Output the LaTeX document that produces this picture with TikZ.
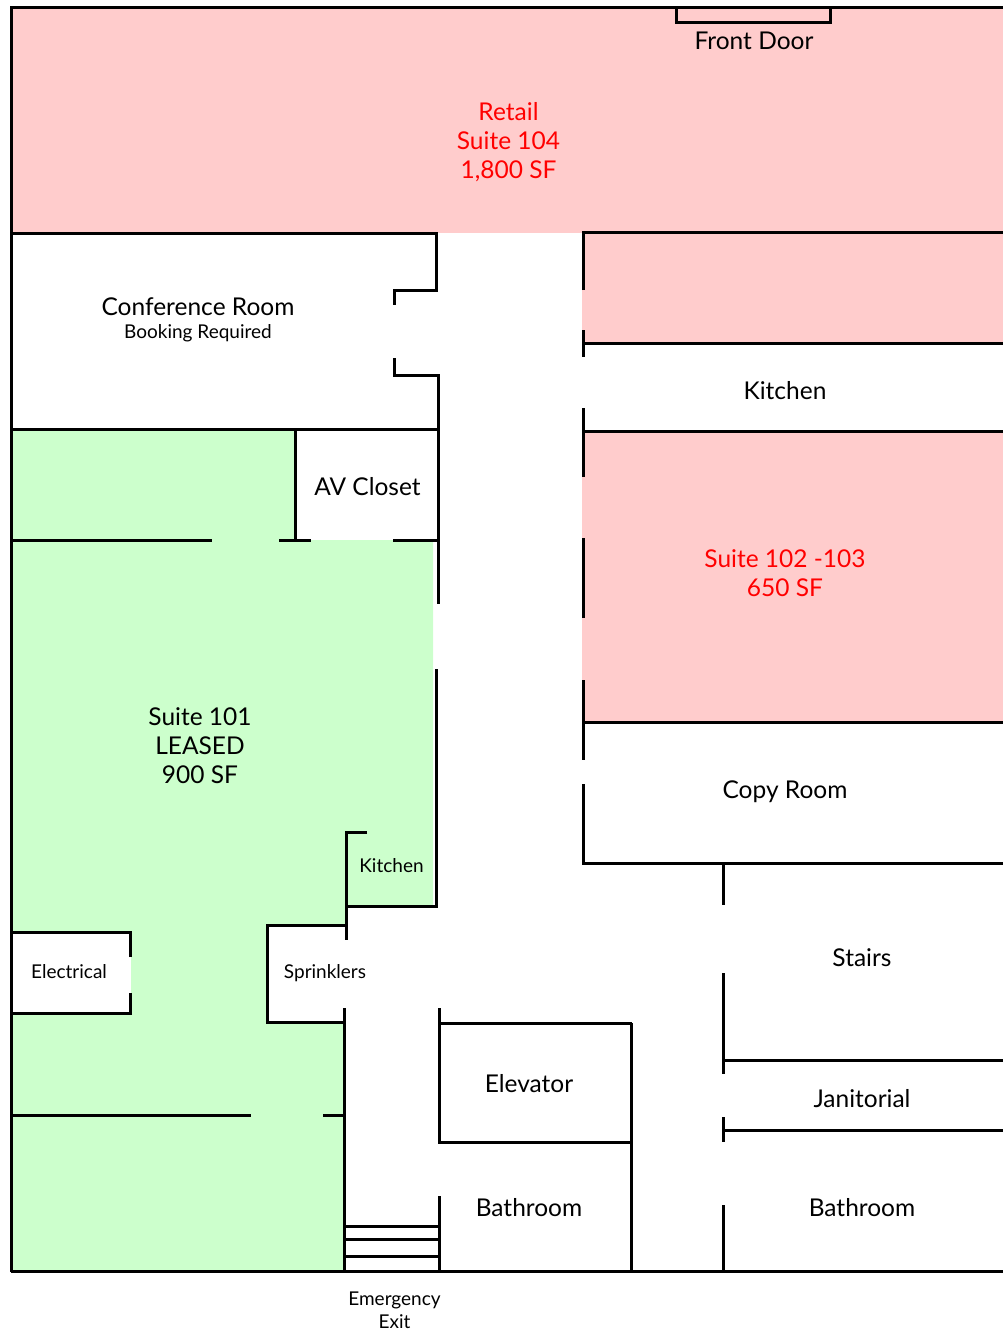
\documentclass[tikz,border=0pt]{standalone}
\usepackage{xcolor}
\usepackage{fontspec}
\setmainfont{Lato}
\definecolor{suitered}{HTML}{FFCCCC}
\definecolor{suitegreen}{HTML}{CCFFCC}
\begin{document}
\begin{tikzpicture}[x = 1pt, y = -1pt]

  \tikzstyle{wall}=[draw=black, line width=3pt, line cap=butt, line join=miter]
  \tikzstyle{roomname}=[align=center, inner sep=0, font=\fontsize{24.5}{29}\selectfont]
  \tikzstyle{smallname}=[align=center, inner sep=0, font=\fontsize{19}{23}\selectfont]
  \tikzstyle{forlease}=[roomname, text=red]

  \useasboundingbox (0, 0) rectangle (1003, 1332);

  % suites
  \fill [suitered] (11, 8) rectangle (1004, 233);
  \fill [suitered] (582, 233) rectangle (1004, 343);
  \fill [suitered] (582, 431) rectangle (1004, 722);
  \fill [suitegreen] (11, 430) -- (295, 430) -- (295, 540) -- (433, 540) -- (433, 906)
    -- (345, 906) -- (345, 925) -- (267, 925) -- (267, 1023) -- (345, 1023) -- (345, 1272)
    -- (11, 1272) -- cycle;
  \fill [white] (11, 932) rectangle (131, 1013);

  % outer walls and door
  \draw [wall] (11, 1272) -- (11, 8) -- (1004, 8);
  \draw [wall] (11, 1271.5) -- (1004, 1271.5);
  \draw [wall] (676, 8) -- (676, 23) -- (830, 23) -- (830, 8);

  % conference room
  \draw [wall] (11, 234) -- (436.5, 234) -- (436.5, 290) -- (394.5, 290) -- (394.5, 305);
  \draw [wall] (394.5, 358) -- (394.5, 375) -- (438, 375) -- (438, 604);
  \draw [wall] (11, 429.5) -- (438, 429.5);

  % suite 101
  \draw [wall] (295.5, 430) -- (295.5, 540);
  \draw [wall] (11, 540) -- (212, 540);
  \draw [wall] (279, 540) -- (311, 540);
  \draw [wall] (393, 540) -- (438, 540);
  \draw [wall] (436.5, 669) -- (436.5, 906) -- (346, 906);
  \draw [wall] (367, 832) -- (346, 832) -- (346, 940);
  \draw [wall] (346, 925) -- (267.5, 925) -- (267.5, 1022.5) -- (345, 1022.5);
  \draw [wall] (130.5, 957) -- (130.5, 932) -- (11, 932);
  \draw [wall] (130.5, 993) -- (130.5, 1013.5) -- (11, 1013.5);
  \draw [wall] (11, 1115.5) -- (251, 1115.5);
  \draw [wall] (323, 1115.5) -- (345, 1115.5);
  \draw [wall] (344.5, 1008) -- (344.5, 1272);

  % east side
  \draw [wall] (583, 290) -- (583, 233) -- (1004, 233);
  \draw [wall] (583, 330) -- (583, 357);
  \draw [wall] (583, 343) -- (1004, 343);
  \draw [wall] (583, 408) -- (583, 477);
  \draw [wall] (583, 431) -- (1004, 431);
  \draw [wall] (583, 538) -- (583, 618);
  \draw [wall] (583, 680) -- (583, 760);
  \draw [wall] (583, 722) -- (1004, 722);
  \draw [wall] (583, 784) -- (583, 863) -- (1004, 863);
  \draw [wall] (723, 863) -- (723, 905);
  \draw [wall] (723, 973) -- (723, 1074);
  \draw [wall] (723, 1060.5) -- (1004, 1060.5);
  \draw [wall] (723, 1117) -- (723, 1142);
  \draw [wall] (723, 1130) -- (1004, 1130);
  \draw [wall] (723, 1205) -- (723, 1272);

  % elevator, bathroom and exit
  \draw [wall] (439, 1008) -- (439, 1142) -- (631.5, 1142);
  \draw [wall] (439, 1023.5) -- (631.5, 1023.5);
  \draw [wall] (631.5, 1023) -- (631.5, 1272);
  \draw [wall] (439, 1196) -- (439, 1272);
  \draw [wall] (345, 1226) -- (439, 1226);
  \draw [wall] (345, 1239.5) -- (439, 1239.5);
  \draw [wall] (345, 1256) -- (439, 1256);

  \node [roomname] (front-door) at (754, 40.5) {Front Door};
  \node [forlease] (retail) at (508.5, 142) {Retail\\Suite 104\\1,800 SF};
  \node [roomname] (conference) at (198, 307) {Conference Room};
  \node [smallname] (booking) at (198, 333) {Booking Required};
  \node [roomname] (kitchen) at (785, 390.5) {Kitchen};
  \node [roomname] (av-closet) at (367.5, 486.5) {AV Closet};
  \node [forlease] (suite-102) at (785, 573) {Suite 102 -103\\650 SF};
  \node [roomname] (suite-101) at (200, 745.5) {Suite 101\\LEASED\\900 SF};
  \node [roomname] (copy-room) at (785, 792) {Copy Room};
  \node [smallname] (kitchen-101) at (391.5, 866) {Kitchen};
  \node [roomname] (stairs) at (862, 958) {Stairs};
  \node [smallname] (electrical) at (69, 972) {Electrical};
  \node [smallname] (sprinklers) at (325, 973) {Sprinklers};
  \node [roomname] (elevator) at (529, 1084) {Elevator};
  \node [roomname] (janitorial) at (862, 1099) {Janitorial};
  \node [roomname] (bathroom-1) at (529, 1208) {Bathroom};
  \node [roomname] (bathroom-2) at (862, 1208) {Bathroom};
  \node [smallname] (exit) at (394.5, 1310) {Emergency\\Exit};
\end{tikzpicture}
\end{document}
